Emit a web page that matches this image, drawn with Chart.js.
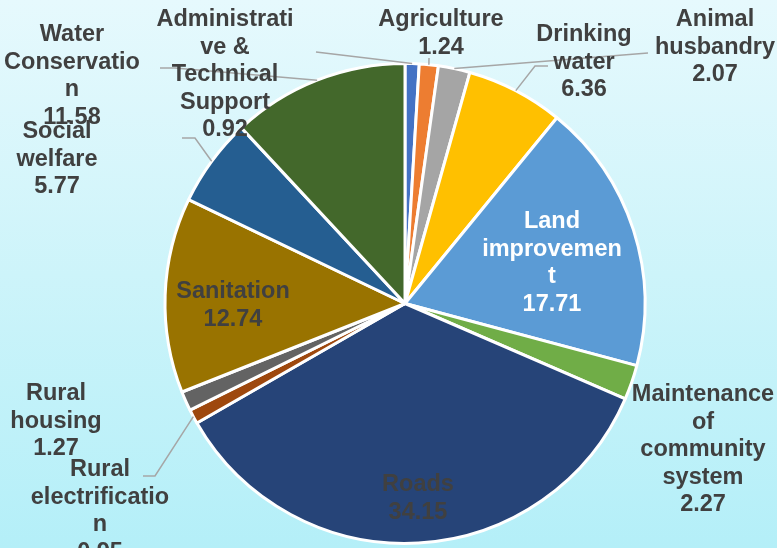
<!DOCTYPE html>
<html>
<head>
<meta charset="utf-8">
<script src="https://cdn.jsdelivr.net/npm/chart.js@4.4.0/dist/chart.umd.min.js"></script>
<style>
  html, body { margin: 0; padding: 0; }
  body {
    width: 777px; height: 548px; overflow: hidden;
    background: linear-gradient(to bottom, #e6f9fd 0%, #cdf4fa 50%, #b4eff8 100%);
  }
  #wrap { position: relative; width: 777px; height: 548px; }
</style>
</head>
<body>
<div id="wrap"><canvas id="pieChart"></canvas></div>
<script>
// Categorias e valores (ordem do Excel, sentido horário a partir do topo)
const categories = [
    "Administrative & Technical Support", "Agriculture", "Animal husbandry",
    "Drinking water", "Land improvement", "Maintenance of community system",
    "Roads", "Rural electrification", "Rural housing", "Sanitation",
    "Social welfare", "Water Conservation"
];
const values = [0.92, 1.24, 2.07, 6.36, 17.71, 2.27, 34.15, 0.95, 1.27, 12.74, 5.77, 11.58];
const colors = [
    "#4472C4", "#ED7D31", "#A5A5A5", "#FFC000", "#5B9BD5", "#70AD47",
    "#264478", "#9E480E", "#636363", "#997300", "#255E91", "#43682B"
];

// Rótulos quebrados como no Excel + posição (centro do texto, 1a linha) e linha guia
const labelLayout = [
    { lines: ["Administrati", "ve &", "Technical", "Support"], x: 225, y: 18, leader: [[316, 52]] },
    { lines: ["Agriculture"], x: 441, y: 18, leader: [[429, 58]] },
    { lines: ["Animal", "husbandry"], x: 715, y: 18, leader: [[648, 53]] },
    { lines: ["Drinking", "water"], x: 584, y: 33, leader: [[548, 66], [535, 66]] },
    { lines: ["Land", "improvemen", "t"], x: 552, y: 220, color: "#ffffff" },
    { lines: ["Maintenance", "of", "community", "system"], x: 703, y: 393 },
    { lines: ["Roads"], x: 418, y: 483 },
    { lines: ["Rural", "electrificatio", "n"], x: 100, y: 468, leader: [[143, 476], [155, 476]] },
    { lines: ["Rural", "housing"], x: 56, y: 392 },
    { lines: ["Sanitation"], x: 233, y: 290 },
    { lines: ["Social", "welfare"], x: 57, y: 130, leader: [[182, 138], [195, 138]] },
    { lines: ["Water", "Conservatio", "n"], x: 72, y: 33, leader: [[160, 68], [175, 68]] }
];

const pieLabels = {
    id: "pieLabels",
    afterDatasetsDraw(chart) {
        const ctx = chart.ctx;
        const meta = chart.getDatasetMeta(0);
        ctx.save();
        // linhas guia
        ctx.strokeStyle = "#a6a6a6";
        ctx.lineWidth = 1.5;
        meta.data.forEach((arc, i) => {
            const lay = labelLayout[i];
            if (!lay.leader) return;
            const p = arc.getProps(["x", "y", "startAngle", "endAngle", "outerRadius"], true);
            const mid = (p.startAngle + p.endAngle) / 2;
            ctx.beginPath();
            ctx.moveTo(lay.leader[0][0], lay.leader[0][1]);
            for (let k = 1; k < lay.leader.length; k++) ctx.lineTo(lay.leader[k][0], lay.leader[k][1]);
            ctx.lineTo(p.x + Math.cos(mid) * p.outerRadius, p.y + Math.sin(mid) * p.outerRadius);
            ctx.stroke();
        });
        // textos
        ctx.font = "bold 23.5px 'Liberation Sans', Arial, sans-serif";
        ctx.textAlign = "center";
        ctx.textBaseline = "middle";
        const lineH = 27.5;
        meta.data.forEach((arc, i) => {
            const lay = labelLayout[i];
            const lines = lay.lines.concat([values[i].toFixed(2)]);
            ctx.fillStyle = lay.color || "#404040";
            lines.forEach((t, k) => ctx.fillText(t, lay.x, lay.y + 2 + k * lineH));
        });
        ctx.restore();
    }
};

new Chart(document.getElementById("pieChart"), {
    type: "pie",
    plugins: [pieLabels],
    data: {
        labels: categories,
        datasets: [{
            data: values,
            backgroundColor: colors,
            borderColor: "#ffffff",
            borderWidth: 3
        }]
    },
    options: {
        responsive: true,
        maintainAspectRatio: false,
        animation: false,
        layout: { padding: { top: 62, bottom: 3, left: 33, right: 0 } },
        plugins: {
            legend: { display: false },
            tooltip: { enabled: false }
        }
    }
});
</script>
</body>
</html>
